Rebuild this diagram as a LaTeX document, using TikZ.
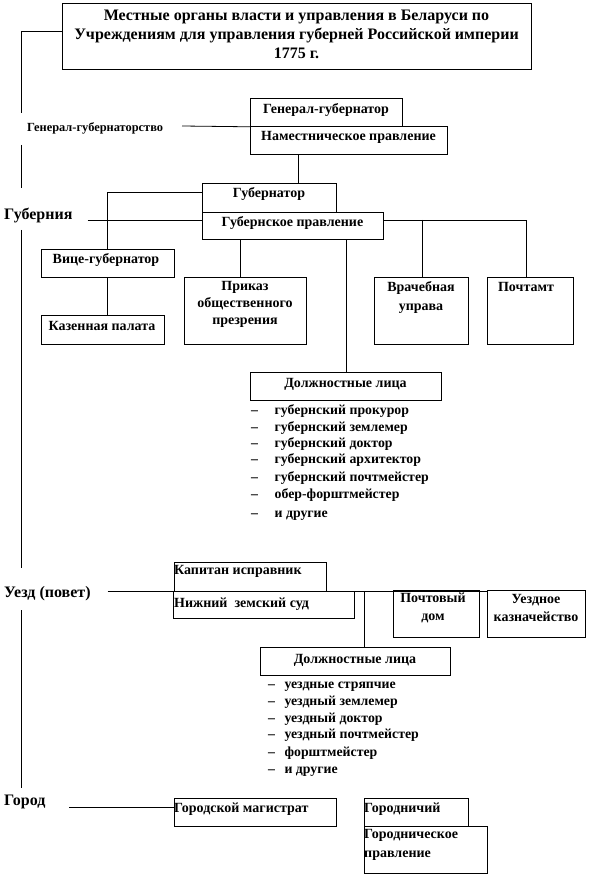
\documentclass[tikz,border=0pt]{standalone}
\usepackage{fontspec}
\setmainfont{Liberation Serif}
\begin{document}
\begin{tikzpicture}[x=1pt,y=-1pt,
  box/.style={draw, line width=0.8pt, inner sep=0pt, anchor=north west},
  bt/.style={inner sep=0pt, font=\bfseries\fontsize{14}{17}\selectfont, anchor=base},
  bl/.style={inner sep=0pt, font=\bfseries\fontsize{14}{17}\selectfont, anchor=base west},
  li/.style={inner sep=0pt, font=\bfseries\fontsize{13.8}{17}\selectfont, anchor=base west},
  mt/.style={inner sep=0pt, font=\bfseries\fontsize{14}{18}\selectfont, align=center},
  lvl/.style={inner sep=0pt, font=\bfseries\fontsize{16}{18}\selectfont, anchor=base west},
  ln/.style={line width=0.8pt}]
\useasboundingbox (0,0) rectangle (593,877);

% title
\node[box, minimum width=469pt, minimum height=66pt] (title) at (62,3) {};
\node[inner sep=0pt, align=center, font=\bfseries\fontsize{16}{19}\selectfont] (title-t) at (296.5,34)
  {Местные органы власти и управления в Беларуси по\\Учреждениям для управления губерней Российской империи\\1775 г.};

% general-governorship
\node[box, minimum width=152pt, minimum height=28pt] (gg) at (250,98) {};
\node[bt] (gg-t) at (326,114) {Генерал-губернатор};
\node[box, minimum width=197pt, minimum height=28pt] (nam) at (250,126) {};
\node[bt] (nam-t) at (348.5,141) {Наместническое правление};

% guberniya
\node[box, minimum width=134pt, minimum height=29pt] (gub) at (202,183) {};
\node[bt] (gub-t) at (269,198) {Губернатор};
\node[box, minimum width=181pt, minimum height=27pt] (gubpr) at (202,212) {};
\node[bt] (gubpr-t) at (292.5,226) {Губернское правление};
\node[box, minimum width=133pt, minimum height=28pt] (vice) at (41,249) {};
\node[bt] (vice-t) at (106,263) {Вице-губернатор};
\node[box, minimum width=123pt, minimum height=29pt] (kaz) at (41,315) {};
\node[bt] (kaz-t) at (102,330) {Казенная палата};
\node[box, minimum width=122pt, minimum height=67pt] (prikaz) at (184,277) {};
\node[mt, font=\bfseries\fontsize{14}{17}\selectfont] (prikaz-t) at (245,304) {Приказ\\общественного\\презрения};
\node[box, minimum width=94pt, minimum height=67pt] (vrach) at (374,277) {};
\node[mt, font=\bfseries\fontsize{14}{19}\selectfont] (vrach-t) at (421,297) {Врачебная\\управа};
\node[box, minimum width=86pt, minimum height=67pt] (pocht) at (487,277) {};
\node[bt] (pocht-t) at (526,291) {Почтамт};
\node[box, minimum width=191pt, minimum height=28pt] (dl1) at (250,372) {};
\node[bt] (dl1-t) at (345.5,387) {Должностные лица};

\foreach \yy/\t [count=\i] in {414/губернский прокурор, 431/губернский землемер, 447/губернский доктор,
  463/губернский архитектор, 481/губернский почтмейстер, 498/обер-форштмейстер, 517/и другие}{
  \node[li] (la\i) at (251,\yy) {–};
  \node[li] (lat\i) at (274.5,\yy) {\t};
}

% uezd
\node[box, minimum width=152pt, minimum height=29pt] (kap) at (174,562) {};
\node[bl] (kap-t) at (174,574) {Капитан исправник};
\node[box, minimum width=181pt, minimum height=27pt] (niz) at (173,591) {};
\node[bl] (niz-t) at (174,607) {Нижний\ \ земский суд};
\node[box, minimum width=86pt, minimum height=47pt] (pochtdom) at (393,590) {};
\node[mt] (pochtdom-t) at (433,608) {Почтовый\\дом};
\node[box, minimum width=98pt, minimum height=47pt] (uezdkaz) at (487,590) {};
\node[mt] (uezdkaz-t) at (536,608) {Уездное\\казначейство};
\node[box, minimum width=190pt, minimum height=28pt] (dl2) at (260,647) {};
\node[bt] (dl2-t) at (355,663) {Должностные лица};

\foreach \yy/\t [count=\i] in {688/уездные стряпчие, 705/уездный землемер, 722/уездный доктор,
  738/уездный почтмейстер, 756/форштмейстер, 773/и другие}{
  \node[li] (lb\i) at (268,\yy) {–};
  \node[li] (lbt\i) at (284.4,\yy) {\t};
}

% gorod
\node[box, minimum width=162pt, minimum height=28pt] (gorodmag) at (174,798) {};
\node[bl] (gorodmag-t) at (174,812) {Городской магистрат};
\node[box, minimum width=104pt, minimum height=28pt] (gorodnich) at (364,798) {};
\node[bl] (gorodnich-t) at (364,812) {Городничий};
\node[box, minimum width=123pt, minimum height=47pt] (gorodpr) at (364,826) {};
\node[mt, align=left, anchor=west, font=\bfseries\fontsize{14}{19}\selectfont] (gorodpr-t) at (364,845) {Городническое\\правление};

% level labels
\node[inner sep=0pt, font=\bfseries\fontsize{12.4}{14}\selectfont, anchor=base west] (ggl) at (27,132) {Генерал-губернаторство};
\node[lvl] (gubl) at (4,220) {Губерния};
\node[lvl] (uezdl) at (4,597) {Уезд (повет)};
\node[lvl] (gorodl) at (4,805) {Город};

% left spine
\coordinate (L0) at (21.7,31.7);
\coordinate (L1) at (21.7,113);
\coordinate (L2) at (21.7,145);
\coordinate (L3) at (21.7,188);
\coordinate (L4) at (21.7,230);
\coordinate (L5) at (21.7,568);
\coordinate (L6) at (21.7,610);
\coordinate (L7) at (21.7,788);
\draw[ln] (title.west |- L0) -- (L0) -- (L1);
\draw[ln] (L2) -- (L3);
\draw[ln] (L4) -- (L5);
\draw[ln] (L6) -- (L7);

% connectors
\coordinate (g1) at (182,126);
\draw[ln] (g1) -- (gg.south west);
\coordinate (g4) at (298.5,0);
\draw[ln] (nam.south -| g4) -- (gub.north -| g4);
\coordinate (g2) at (87.5,220);
\draw[ln] (g2) -- (g2 -| gubpr.west);
\coordinate (g3) at (107,192);
\draw[ln] (g3 -| gub.west) -- (g3) -- (g3 |- vice.north);
\draw[ln] (vice.south -| g3) -- (kaz.north -| g3);
\coordinate (g5) at (240.7,0);
\draw[ln] (gubpr.south -| g5) -- (prikaz.north -| g5);
\draw[ln] (gubpr.south -| dl1.north) -- (dl1.north);
\coordinate (g6) at (422,0);
\coordinate (g7) at (526.6,0);
\draw[ln] (g2 -| gubpr.east) -- (g2 -| g7) -- (pocht.north -| g7);
\draw[ln] (g2 -| g6) -- (vrach.north -| g6);

\coordinate (u1) at (107.6,591);
\draw[ln] (u1) -- (u1 -| uezdkaz.west);
\coordinate (u2) at (364,591);
\draw[ln] (u2) -- (u2 |- dl2.north);

\coordinate (c1) at (69,807);
\draw[ln] (c1) -- (c1 -| gorodmag.west);
\end{tikzpicture}
\end{document}
